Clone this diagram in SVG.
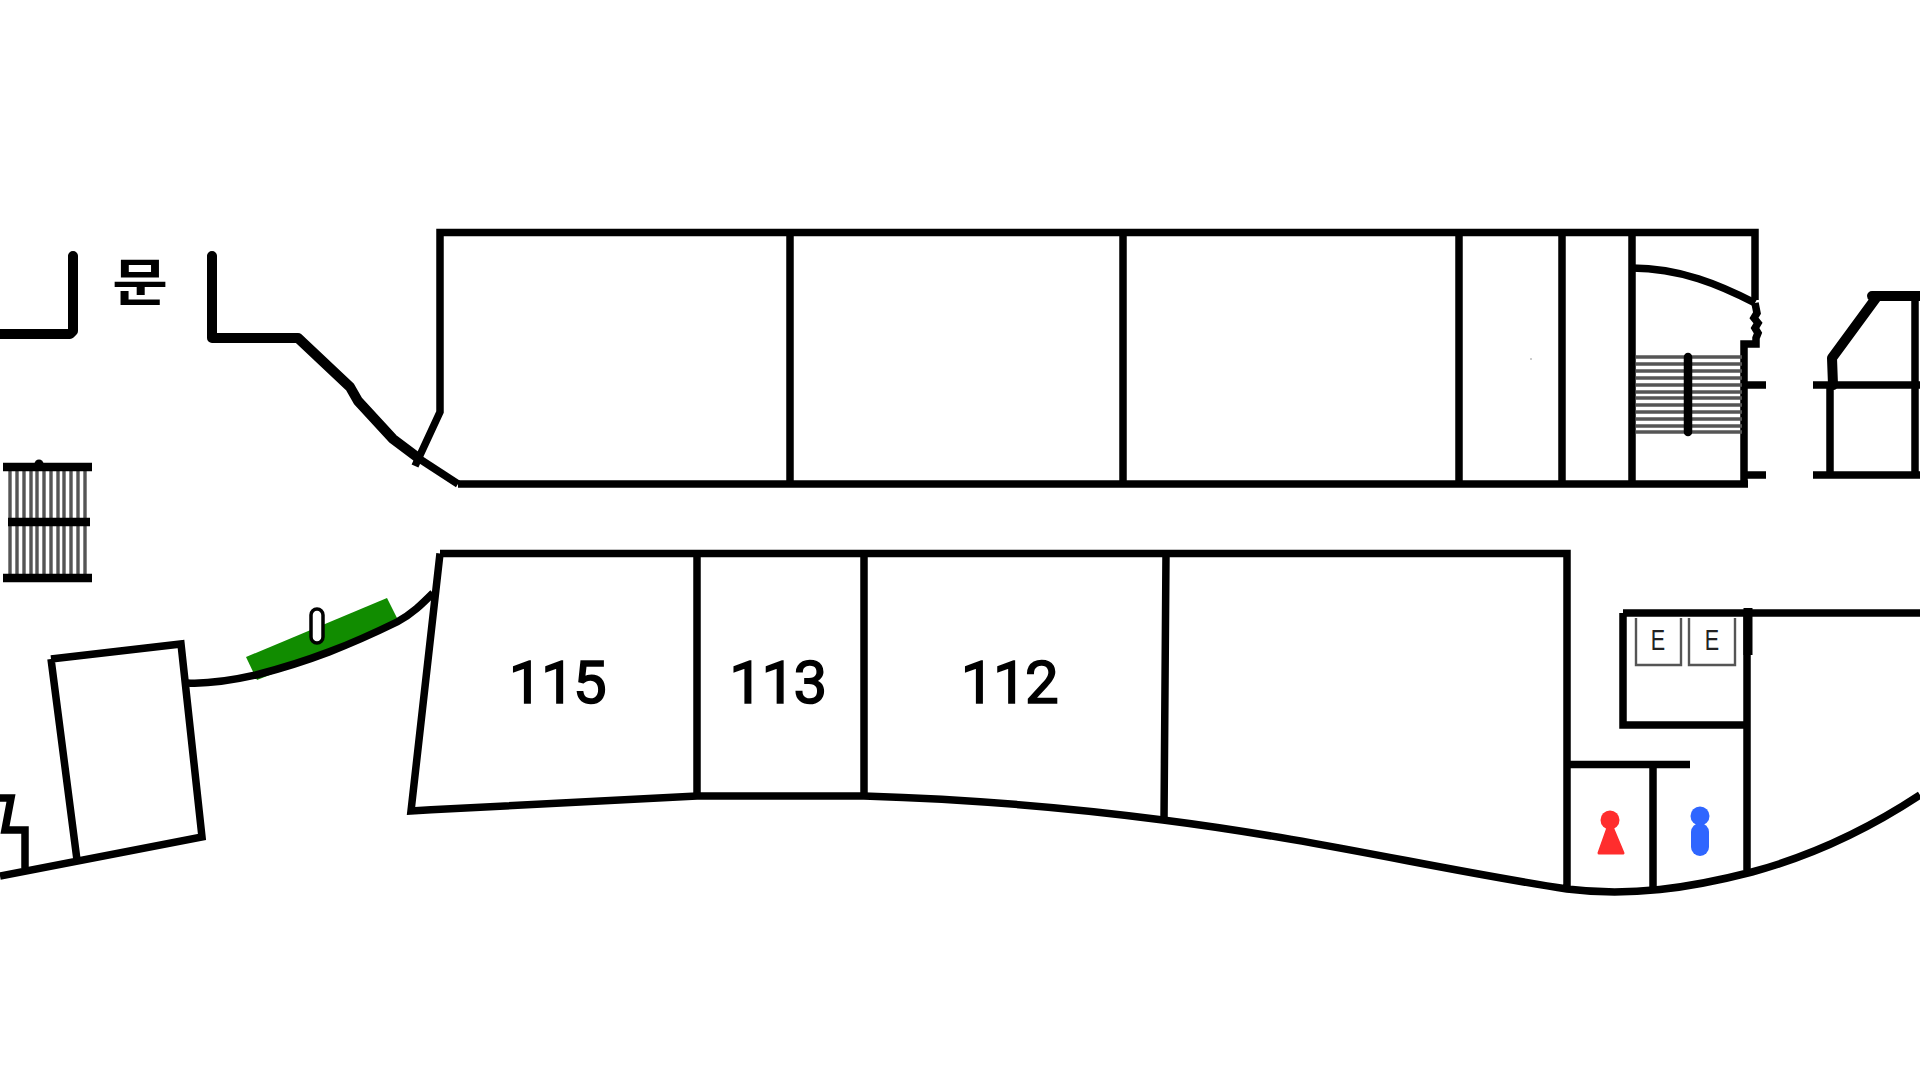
<svg xmlns="http://www.w3.org/2000/svg" width="1920" height="1080" viewBox="0 0 1920 1080">
<style>
.w{fill:none;stroke:#000;stroke-width:7.500;stroke-linejoin:miter}
.t{fill:none;stroke:#000;stroke-width:10;stroke-linejoin:round;stroke-linecap:round}
.s{stroke:#555;stroke-width:3.400}
.n{font-family:Roboto,"Liberation Sans",Arial,sans-serif;font-size:60px;letter-spacing:-1.500px;text-anchor:middle;fill:#000;stroke:#000;stroke-width:1.600}
.e{font-family:"Liberation Sans",Arial,sans-serif;font-size:30px;text-anchor:middle;fill:#222}
.b{fill:none;stroke:#555;stroke-width:2.400}
</style>
<rect width="1920" height="1080" fill="#fff"/>
<g id="door">
<path class="t" d="M-5 334H70L73 331V256"/>
<path class="t" d="M212 256V338H298L350 387L358 401L393 439L417 457"/>
<path class="w" d="M415 456L458 484"/>
<text transform="translate(140 301) scale(1.1 .93)" font-family="'Noto Sans CJK KR','Noto Sans',sans-serif" font-size="55" font-weight="700" text-anchor="middle">문</text>
</g>
<g id="north-block">
<path class="w" d="M415 466L440 412V232.500H1755V300"/>
<path class="w" d="M458 484H1748"/>
<path class="w" d="M790 232V484M1123 232V484M1459 232V484M1562 232V484M1632 232V484"/>
<path class="w" d="M1632 268C1680 268 1720 285 1755 303"/>
<path class="w" d="M1755 303L1757 313L1754 318L1758 323L1755 328L1758 333L1756 338V344H1744V484"/>
<path class="w" d="M1744 385H1766M1746 475H1766"/>
</g>
<g id="stair-east">
<path class="s" d="M1636 357H1742M1636 364H1742M1636 371H1742M1636 378H1742M1636 385H1742M1636 392H1742M1636 398H1742M1636 405H1742M1636 412H1742M1636 419H1742M1636 426H1742M1636 432H1742"/>
<path d="M1688 357V432" stroke="#000" stroke-width="8.500" stroke-linecap="round"/>
</g>
<g id="east-block">
<path class="t" d="M1920 296H1872L1876 298L1832 358L1833 385"/>
<path class="w" d="M1813 385H1920M1813 475H1920M1830 385V475M1915 295V475"/>
</g>
<g id="stair-west">
<path class="s" d="M10 470V575M17 470V575M24 470V575M31 470V575M37 470V575M44 470V575M51 470V575M58 470V575M64 470V575M71 470V575M78 470V575M85 470V575"/>
<path d="M3 467H92M8 522H90M3 578H92" stroke="#000" stroke-width="8.500"/>
<circle cx="39" cy="464" r="4.500"/>
</g>
<g id="west-wall">
<polygon points="246,657 387,598 398,620 333,650 257,680" fill="#118c00"/>
<path class="w" d="M187 683C205 684 225 682 256 675C310 661 350 645 397 622C412 614 422 604 433 593"/>
<rect x="311" y="609" width="12" height="34" rx="6" fill="#fff" stroke="#000" stroke-width="3.500"/>
</g>
<g id="west-building">
<path class="w" d="M51 659L181 644L202 837L0 876M51 659L77 860"/>
<path class="w" d="M0 798H11L5 830H25V868"/>
</g>
<g id="south-block">
<path class="w" d="M440 553.500H1567V888M440 553.500L411 811C510 805 610 800 697 796H864C960 799 1065 807 1163 820C1320 840 1440 870 1567 889C1630 897 1690 888 1752 872C1815 855 1870 828 1920 795"/>
<path class="w" d="M697 553V796M864 553V796M1166 553L1164 820"/>
<text class="n" x="557" y="703">115</text>
<text class="n" x="777.500" y="703">113</text>
<text class="n" x="1009" y="703">112</text>
</g>
<g id="core">
<path class="w" d="M1747 613V870M1623 613H1920M1623 613V725H1747M1567 764.500H1690M1653 764V888"/>
<path d="M1748 608V655" stroke="#000" stroke-width="9"/>
<path class="b" d="M1636 618V665H1681V618M1689 618V665H1735V618"/>
<text class="e" transform="translate(1658 650) scale(.72 1)">E</text>
<text class="e" transform="translate(1712 650) scale(.72 1)">E</text>
</g>
<g id="toilet-f"><circle cx="1610" cy="820" r="9.500" fill="#ff2d2d"/><path d="M1610 822L1623 853H1599Z" fill="#ff2d2d" stroke="#ff2d2d" stroke-width="3" stroke-linejoin="round"/></g>
<g id="toilet-m"><circle cx="1700" cy="816" r="9.500" fill="#2f66ff"/><rect x="1691" y="823" width="18" height="33" rx="9" fill="#2f66ff"/></g>
<circle cx="1531" cy="359" r="1" fill="#bbb"/>
</svg>
